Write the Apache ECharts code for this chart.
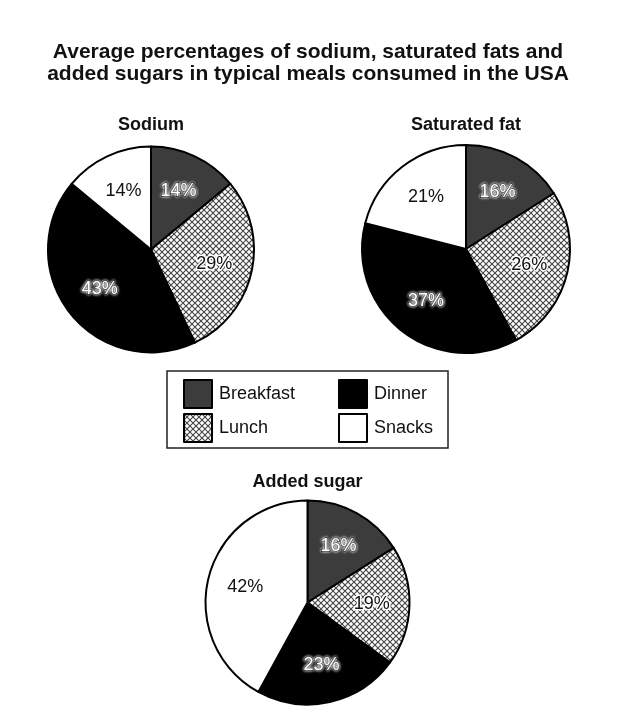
<!DOCTYPE html>
<html>
<head>
<meta charset="utf-8">
<script src="https://cdn.jsdelivr.net/npm/echarts@6/dist/echarts.min.js"></script>
<style>
html,body{margin:0;padding:0;background:#fff;}
#main{width:629px;height:722px;}
</style>
</head>
<body>
<div id="main"></div>
<script>
// ---- data ----
const mainTitle = ['Average percentages of sodium, saturated fats and', 'added sugars in typical meals consumed in the USA'];
const chartTitles = ['Sodium', 'Saturated fat', 'Added sugar'];
const meals = ['Breakfast', 'Lunch', 'Dinner', 'Snacks'];
const sodium = [14, 29, 43, 14];
const saturatedFat = [16, 26, 37, 21];
const addedSugar = [16, 19, 23, 42];

// ---- styles ----
function hatch() {
  const c = document.createElement('canvas');
  c.width = 6; c.height = 6;
  const g = c.getContext('2d');
  g.fillStyle = '#fff'; g.fillRect(0, 0, 6, 6);
  g.strokeStyle = '#444'; g.lineWidth = 1.1;
  g.beginPath();
  g.moveTo(-1, -1); g.lineTo(7, 7);
  g.moveTo(7, -1); g.lineTo(-1, 7);
  g.stroke();
  return c;
}
const lunchFill = { image: hatch(), repeat: 'repeat' };
const fills = ['#3b3c3b', lunchFill, '#000000', '#ffffff'];
const font = 'Liberation Sans, Arial, sans-serif';
const labelStyles = [
  { color: '#fff', textBorderColor: '#000', textBorderWidth: 1.5, textShadowColor: '#fff', textShadowBlur: 3 },
  { color: '#111', textBorderColor: '#fff', textBorderWidth: 3 },
  { color: '#fff', textBorderColor: '#000', textBorderWidth: 1.5, textShadowColor: '#fff', textShadowBlur: 3 },
  { color: '#111' }
];

const layouts = [
  { center: [151, 249.5], r: 103, titleY: 116 },
  { center: [466, 249], r: 104, titleY: 116 },
  { center: [307.5, 602.5], r: 102, titleY: 473 }
];
const datasets = [sodium, saturatedFat, addedSugar];

const series = [];
const labelSeries = [];
const titles = [{
  text: mainTitle.join('\n'), left: 308, top: 41, textAlign: 'center', padding: 0,
  textStyle: { fontFamily: font, fontSize: 21, fontWeight: 'bold', lineHeight: 22, color: '#111' }
}];

datasets.forEach((vals, k) => {
  const L = layouts[k];
  titles.push({
    text: chartTitles[k], left: L.center[0], top: L.titleY, textAlign: 'center', padding: 0,
    textStyle: { fontFamily: font, fontSize: 18, fontWeight: 'bold', lineHeight: 18, color: '#111' }
  });
  series.push({
    type: 'pie', center: L.center, radius: L.r, startAngle: 90, clockwise: true,
    label: { show: false }, labelLine: { show: false }, emphasis: { disabled: true },
    itemStyle: { borderColor: '#000', borderWidth: 2 },
    data: vals.map((v, i) => ({ name: meals[i], value: v, itemStyle: { color: fills[i] } }))
  });
  labelSeries.push({
    type: 'pie', center: L.center, radius: L.r * 1.2, startAngle: 90, clockwise: true,
    silent: true, legendHoverLink: false, emphasis: { disabled: true },
    itemStyle: { color: 'rgba(0,0,0,0)', borderWidth: 0 },
    labelLine: { show: false },
    data: vals.map((v, i) => ({
      name: meals[i], value: v,
      label: Object.assign({ show: true, position: 'inside', formatter: '{c}%', fontFamily: font, fontSize: 18 }, labelStyles[i])
    }))
  });
});

const legendBase = {
  orient: 'vertical', top: 379, itemWidth: 28, itemHeight: 28, itemGap: 4, padding: 0,
  icon: 'rect', selectedMode: false,
  itemStyle: { borderColor: '#000', borderWidth: 2 },
  textStyle: { fontFamily: font, fontSize: 18, color: '#111', padding: [0, 0, 0, 2] }
};

const chart = echarts.init(document.getElementById('main'), null, { renderer: 'canvas' });
chart.setOption({
  backgroundColor: '#fff',
  animation: false,
  title: titles,
  legend: [
    Object.assign({}, legendBase, { left: 183, data: [meals[0], meals[1]] }),
    Object.assign({}, legendBase, { left: 338, data: [meals[2], meals[3]] })
  ],
  graphic: [{
    type: 'rect', shape: { x: 167, y: 371, width: 281, height: 77 },
    style: { fill: 'none', stroke: '#222', lineWidth: 1.5 }, silent: true
  }],
  series: series.concat(labelSeries)
});
</script>
</body>
</html>
